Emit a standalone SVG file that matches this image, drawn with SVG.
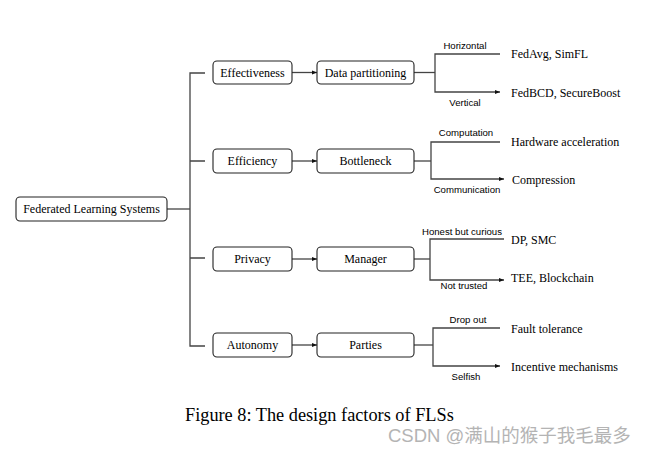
<svg xmlns="http://www.w3.org/2000/svg" width="654" height="453" viewBox="0 0 654 453">
<defs>
<marker id="ah" viewBox="0 0 10 10" refX="10" refY="5" markerWidth="5" markerHeight="5" markerUnits="userSpaceOnUse" orient="auto">
<path d="M0,1 L10,5 L0,9 z" fill="#111"/>
</marker>
</defs>
<style>
.box{fill:#fff;stroke:#222;stroke-width:1.1}
.t{font-family:"Liberation Serif","Times New Roman",serif;font-size:12px;fill:#000}
.c{text-anchor:middle}
.lab{font-family:"Liberation Sans",Arial,sans-serif;font-size:9.6px;fill:#000;text-anchor:middle}
.ln{fill:none;stroke:#444;stroke-width:1.3}
.ar{fill:none;stroke:#444;stroke-width:1.3;marker-end:url(#ah)}
</style>
<rect width="654" height="453" fill="#fff"/>
<g id="connectors">
<path class="ln" d="M167,209 H190"/>
<path class="ln" d="M205,73 H190 V346 H205"/>
<path class="ln" d="M190,161 H205 M190,258 H205"/>
<path class="ar" d="M292,72.5 H317"/>
<path class="ar" d="M292,161 H317"/>
<path class="ar" d="M292,259 H317"/>
<path class="ar" d="M292,345 H317"/>
<path class="ln" d="M414,72.5 H435"/>
<path class="ar" d="M500,54 H435 V92 H500"/>
<path class="ln" d="M414,161 H431"/>
<path class="ar" d="M500,142 H431 V179 H504"/>
<path class="ln" d="M414,259 H430"/>
<path class="ar" d="M504,239 H430 V280 H504"/>
<path class="ln" d="M414,345 H433"/>
<path class="ar" d="M500,328 H433 V366 H500"/>
</g>
<g id="labels">
<text class="lab" x="465" y="49">Horizontal</text>
<text class="lab" x="465" y="106">Vertical</text>
<text class="lab" x="466" y="136">Computation</text>
<text class="lab" x="467" y="193">Communication</text>
<text class="lab" x="462" y="235">Honest but curious</text>
<text class="lab" x="464" y="289">Not trusted</text>
<text class="lab" x="468" y="323">Drop out</text>
<text class="lab" x="466" y="380">Selfish</text>
</g>
<g id="root"><rect class="box" x="16" y="197" width="151" height="24" rx="4"/><text class="t c" x="91.5" y="213.2">Federated Learning Systems</text></g>
<g id="effectiveness"><rect class="box" x="213" y="61" width="79" height="23" rx="4"/><text class="t c" x="252.5" y="76.7">Effectiveness</text></g>
<g id="efficiency"><rect class="box" x="213" y="149" width="79" height="24" rx="4"/><text class="t c" x="252.5" y="165.2">Efficiency</text></g>
<g id="privacy"><rect class="box" x="213" y="247" width="79" height="24" rx="4"/><text class="t c" x="252.5" y="263.2">Privacy</text></g>
<g id="autonomy"><rect class="box" x="213" y="333" width="79" height="24" rx="4"/><text class="t c" x="252.5" y="349.2">Autonomy</text></g>
<g id="data-partitioning"><rect class="box" x="317" y="61" width="97" height="23" rx="4"/><text class="t c" x="365.5" y="76.7">Data partitioning</text></g>
<g id="bottleneck"><rect class="box" x="317" y="149" width="97" height="24" rx="4"/><text class="t c" x="365.5" y="165.2">Bottleneck</text></g>
<g id="manager"><rect class="box" x="317" y="247" width="97" height="24" rx="4"/><text class="t c" x="365.5" y="263.2">Manager</text></g>
<g id="parties"><rect class="box" x="317" y="333" width="97" height="24" rx="4"/><text class="t c" x="365.5" y="349.2">Parties</text></g>
<g id="fedavg"><text class="t" x="511" y="58">FedAvg, SimFL</text></g>
<g id="fedbcd"><text class="t" x="511" y="96.5">FedBCD, SecureBoost</text></g>
<g id="hardware"><text class="t" x="511" y="146">Hardware acceleration</text></g>
<g id="compression"><text class="t" x="512" y="184">Compression</text></g>
<g id="dp"><text class="t" x="511" y="243.5">DP, SMC</text></g>
<g id="tee"><text class="t" x="511" y="282">TEE, Blockchain</text></g>
<g id="fault"><text class="t" x="511" y="333">Fault tolerance</text></g>
<g id="incentive"><text class="t" x="511" y="370.5">Incentive mechanisms</text></g>
<text x="185" y="421" style="font-family:'Liberation Serif','Times New Roman',serif;font-size:18.3px;fill:#000">Figure 8: The design factors of FLSs</text>
<text x="388" y="442" style="font-family:'Liberation Sans','Noto Sans CJK SC',sans-serif;font-size:18.5px;fill:#b4b4b4">CSDN @满山的猴子我毛最多</text>
</svg>
